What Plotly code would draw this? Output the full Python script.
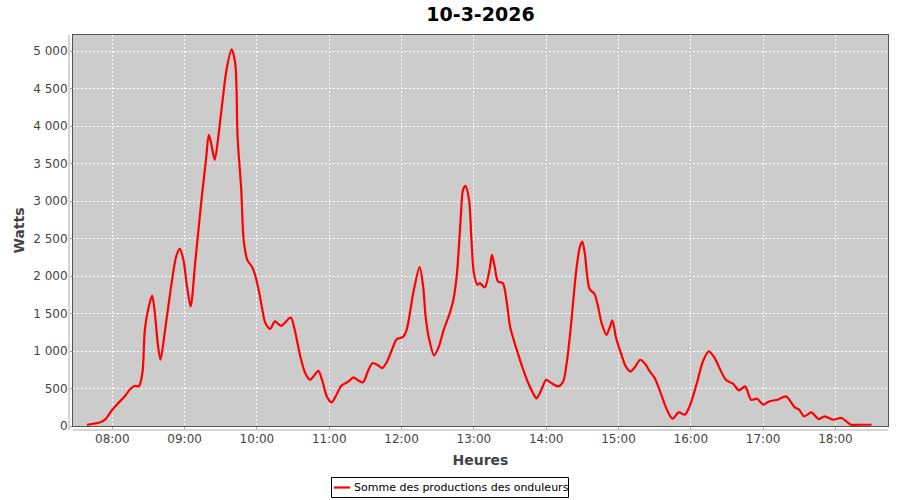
import plotly.graph_objects as go

DAY = "2026-03-10"
times = ["07:39","07:50","07:54","08:00","08:05","08:10","08:15","08:19","08:22","08:25","08:27","08:30","08:33","08:35","08:38","08:40","08:44","08:49","08:53","08:56","08:59","09:02","09:05","09:09","09:14","09:18","09:20","09:22","09:25","09:28","09:30","09:35","09:39","09:42","09:44","09:47","09:49","09:52","09:56","09:58","10:02","10:04","10:07","10:11","10:15","10:20","10:28","10:31","10:36","10:40","10:44","10:48","10:51","10:54","10:58","11:02","11:06","11:10","11:16","11:20","11:24","11:28","11:32","11:36","11:41","11:44","11:48","11:52","11:56","12:01","12:04","12:10","12:15","12:18","12:20","12:23","12:27","12:31","12:35","12:40","12:43","12:46","12:49","12:51","12:53","12:56","12:58","13:00","13:03","13:05","13:09","13:13","13:15","13:17","13:20","13:24","13:27","13:30","13:33","13:36","13:40","13:44","13:49","13:52","13:56","14:00","14:04","14:10","14:14","14:17","14:20","14:25","14:28","14:30","14:32","14:36","14:40","14:43","14:46","14:50","14:53","14:55","14:58","15:02","15:06","15:10","15:14","15:18","15:22","15:26","15:30","15:35","15:39","15:43","15:45","15:50","15:55","15:59","16:05","16:10","16:15","16:20","16:29","16:35","16:40","16:45","16:50","16:55","17:00","17:05","17:12","17:19","17:26","17:30","17:34","17:40","17:46","17:51","17:58","18:05","18:09","18:13","18:20","18:30"]
watts = [15,50,84,217,306,390,493,537,528,707,1284,1573,1741,1550,1061,884,1307,1884,2261,2364,2217,1861,1595,2217,3017,3595,3884,3773,3551,3861,4137,4773,5027,4840,3840,3151,2484,2217,2120,2040,1773,1595,1373,1297,1395,1337,1448,1307,928,707,617,684,737,617,395,315,417,537,595,648,608,581,728,840,804,773,861,1017,1160,1185,1270,1800,2120,1850,1450,1151,941,1061,1284,1507,1684,2040,2751,3151,3204,3017,2484,2040,1884,1907,1848,2084,2284,2151,1928,1907,1684,1328,1151,995,795,617,440,368,484,617,575,528,590,840,1250,2084,2395,2461,2307,1827,1764,1595,1373,1217,1328,1408,1173,973,795,728,795,884,831,728,640,440,262,128,97,181,151,262,573,861,995,900,617,564,475,528,351,364,284,328,351,395,253,217,128,181,93,128,84,107,61,17,17,17]
y_ticks = [0, 500, 1000, 1500, 2000, 2500, 3000, 3500, 4000, 4500, 5000]
y_labels = ["0", "500", "1 000", "1 500", "2 000", "2 500", "3 000", "3 500", "4 000", "4 500", "5 000"]
x_ticks = ["08:00","09:00","10:00","11:00","12:00","13:00","14:00","15:00","16:00","17:00","18:00"]
series_name = "Somme des productions des onduleurs"

x = [f"{DAY} {t}:00" for t in times]
FONT = "DejaVu Sans"
RED = "#ff0000"

fig = go.Figure()
fig.add_trace(go.Scatter(
    x=x, y=watts, mode="lines", name=series_name, showlegend=False,
    line=dict(color=RED, width=2.2, shape="spline", smoothing=0.8),
))

W, H = 900, 500
L, R, T, B = 73, 12, 35, 74
pw, ph = W - L - R, H - T - B


def px(X):
    return (X - L) / pw


def py(Y):
    return (T + ph - Y) / ph


fig.update_layout(
    width=W, height=H,
    margin=dict(l=L, r=R, t=T, b=B, autoexpand=False),
    paper_bgcolor="white", plot_bgcolor="#cccccc",
    font=dict(family=FONT, size=12, color="#444444"),
    title=dict(text="<b>10-3-2026</b>", x=0.5, xref="paper", xanchor="center",
               y=1 - 14 / H, yref="container", yanchor="middle",
               font=dict(family=FONT, size=19, color="black")),
    showlegend=False,
    xaxis=dict(
        type="date",
        range=[f"{DAY} 07:27:24", f"{DAY} 18:43:36"],
        tickvals=[f"{DAY} {t}:00" for t in x_ticks], ticktext=x_ticks,
        showgrid=True, gridcolor="white", griddash="2px,2px", gridwidth=1,
        showline=True, mirror=True, linecolor="#555555", linewidth=1,
        ticks="outside", ticklen=2, tickcolor="#aaaaaa", zeroline=False,
        tickfont=dict(family=FONT, size=12, color="#444444"),
        title=dict(text="Heures", font=dict(family=FONT, size=14, color="#444444", weight="bold"), standoff=9),
    ),
    yaxis=dict(
        range=[0, 5217],
        tickvals=y_ticks, ticktext=y_labels,
        showgrid=True, gridcolor="white", griddash="2px,2px", gridwidth=1,
        showline=True, mirror=True, linecolor="#555555", linewidth=1,
        ticks="outside", ticklen=2, tickcolor="#aaaaaa", zeroline=False,
        tickfont=dict(family=FONT, size=12, color="#444444"),
        title=dict(text="Watts", font=dict(family=FONT, size=14, color="#444444", weight="bold"), standoff=5),
    ),
)

# Offset axis lines (JFreeChart style)
fig.add_shape(type="line", xref="paper", yref="paper",
              x0=px(69), x1=px(69), y0=py(430), y1=1, line=dict(color="#aaaaaa", width=1))
fig.add_shape(type="line", xref="paper", yref="paper",
              x0=0, x1=1, y0=py(430), y1=py(430), line=dict(color="#aaaaaa", width=1))

# Legend box (JFreeChart style, bottom centre)
fig.add_shape(type="rect", xref="paper", yref="paper",
              x0=px(331.5), x1=px(568.5), y0=py(497.5), y1=py(477.5),
              line=dict(color="black", width=1), fillcolor="white", layer="above")
fig.add_shape(type="line", xref="paper", yref="paper",
              x0=px(334), x1=px(350), y0=py(487.5), y1=py(487.5),
              line=dict(color=RED, width=2.2), layer="above")
fig.add_annotation(text=series_name, xref="paper", yref="paper",
                   x=px(352), y=py(487.5), xanchor="left", yanchor="middle",
                   showarrow=False, font=dict(family=FONT, size=11, color="black"))

fig.write_html("out.html", config={"displayModeBar": False},
               post_script="document.body.style.margin='0';document.body.style.padding='0';")
